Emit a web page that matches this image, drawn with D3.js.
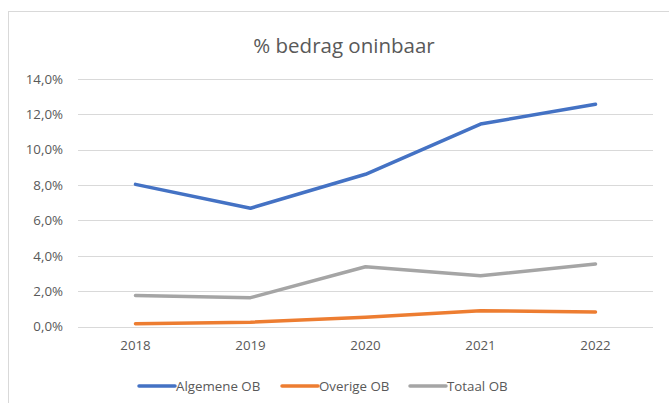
<!DOCTYPE html>
<html>
<head>
<meta charset="utf-8">
<script src="https://cdn.jsdelivr.net/npm/d3@7"></script>
<style>
  body { margin: 0; background: #fff; }
  text { font-family: "Open Sans", "Liberation Sans", sans-serif; fill: #595959; }
</style>
</head>
<body>
<svg id="chart"></svg>
<script>
// Chart data
var years = ["2018", "2019", "2020", "2021", "2022"];
var algemene = [8.04, 6.69, 8.61, 11.45, 12.57];
var overige = [0.16, 0.24, 0.52, 0.89, 0.82];
var totaal = [1.76, 1.63, 3.38, 2.87, 3.54];
var yTicks = [0, 2, 4, 6, 8, 10, 12, 14];

var seriesNames = ["Algemene OB", "Overige OB", "Totaal OB"];
var seriesColors = ["#4472C4", "#ED7D31", "#A5A5A5"];
var seriesValues = [algemene, overige, totaal];

var width = 669, height = 403;
var svg = d3.select("#chart").attr("width", width).attr("height", height);

// Chart area border
svg.append("rect")
  .attr("x", 8.5).attr("y", 11.5)
  .attr("width", 700).attr("height", 420)
  .attr("fill", "none")
  .attr("stroke", "#d9d9d9")
  .attr("stroke-width", 1);

// Title
svg.append("text")
  .attr("x", 344)
  .attr("y", 53)
  .attr("text-anchor", "middle")
  .attr("font-size", 20.5)
  .text("% bedrag oninbaar");

// Scales
var x = d3.scaleBand().domain(years).range([78, 653]);
var y = d3.scaleLinear().domain([0, 14]).range([326.5, 79]);

// Gridlines
svg.append("g")
  .selectAll("line")
  .data(yTicks)
  .join("line")
  .attr("x1", 78).attr("x2", 653)
  .attr("y1", function(d) { return Math.round(y(d)) + 0.5; })
  .attr("y2", function(d) { return Math.round(y(d)) + 0.5; })
  .attr("stroke", "#d9d9d9")
  .attr("stroke-width", 1);

// Y axis labels
var fmt = function(d) { return d.toFixed(1).replace(".", ",") + "%"; };
var yAxis = svg.append("g")
  .attr("transform", "translate(78,0)")
  .call(d3.axisLeft(y).tickValues(yTicks).tickFormat(fmt).tickSize(0).tickPadding(15));
yAxis.select(".domain").remove();
yAxis.selectAll("text").attr("font-size", 13.3).attr("fill", "#595959")
  .style("font-family", "'Open Sans', sans-serif");

// X axis labels
var xAxis = svg.append("g")
  .attr("transform", "translate(0,326.5)")
  .call(d3.axisBottom(x).tickSize(0).tickPadding(14));
xAxis.select(".domain").remove();
xAxis.selectAll("text").attr("font-size", 13.3).attr("fill", "#595959")
  .style("font-family", "'Open Sans', sans-serif");

// Lines
var line = d3.line()
  .x(function(d, i) { return x(years[i]) + x.bandwidth() / 2; })
  .y(function(d) { return y(d); });

seriesValues.forEach(function(vals, k) {
  svg.append("path")
    .datum(vals)
    .attr("d", line)
    .attr("fill", "none")
    .attr("stroke", seriesColors[k])
    .attr("stroke-width", 3.5)
    .attr("stroke-linecap", "round")
    .attr("stroke-linejoin", "round");
});

// Legend
var legendX = [139, 282, 410];
var legend = svg.append("g");
seriesNames.forEach(function(name, k) {
  legend.append("line")
    .attr("x1", legendX[k]).attr("x2", legendX[k] + 36)
    .attr("y1", 386).attr("y2", 386)
    .attr("stroke", seriesColors[k])
    .attr("stroke-width", 3.5)
    .attr("stroke-linecap", "round");
  legend.append("text")
    .attr("x", legendX[k] + 37)
    .attr("y", 391)
    .attr("font-size", 13.3)
    .text(name);
});
</script>
</body>
</html>
